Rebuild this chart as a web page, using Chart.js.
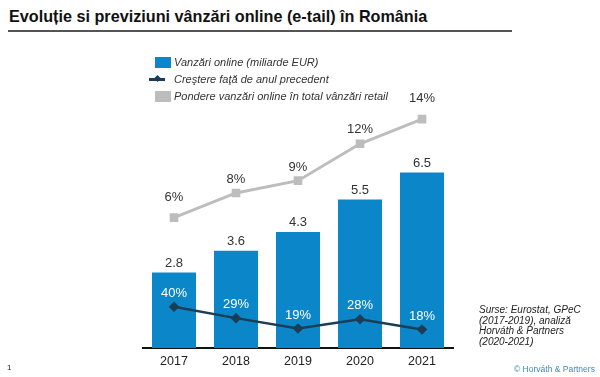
<!DOCTYPE html>
<html>
<head>
<meta charset="utf-8">
<script src="https://cdn.jsdelivr.net/npm/chart.js@4"></script>
<style>
  body { margin: 0; width: 600px; height: 377px; position: relative; background: #fff; font-family: "Liberation Sans", Arial, sans-serif; overflow: hidden; }
  #title { position: absolute; left: 9px; top: 7px; font-size: 16.2px; font-weight: bold; color: #111; white-space: nowrap; }
  #rule { position: absolute; left: 8px; top: 30px; width: 504px; height: 0; border-top: 2px solid #555; }
  #wrap { position: absolute; left: 0; top: 0; width: 600px; height: 377px; }
  .leg { position: absolute; left: 174px; font-size: 11px; font-style: italic; color: #333; white-space: nowrap; }
  .box { position: absolute; width: 16px; height: 11px; }
  #src { position: absolute; left: 479px; top: 305px; font-size: 10px; line-height: 10.6px; font-style: italic; color: #222; }
  #copy { position: absolute; left: 514px; top: 364px; font-size: 8.5px; color: #3b8cc4; white-space: nowrap; }
  #page { position: absolute; left: 7px; top: 363px; font-size: 8px; color: #222; }
</style>
</head>
<body>
<div id="title">Evoluție si previziuni vânzări online (e-tail) în România</div>
<div id="rule"></div>
<div id="wrap"><canvas id="chart" width="600" height="377"></canvas></div>

<div class="box" style="left:155px;top:57px;background:#0b87c9"></div>
<div class="leg" style="top:56px">Vanzări online (miliarde EUR)</div>
<div style="position:absolute;left:149px;top:78px;width:16px;height:3px;background:#1c3d55"></div>
<div style="position:absolute;left:155px;top:76px;width:5px;height:5px;background:#1c3d55;transform:rotate(45deg)"></div>
<div class="leg" style="top:73px">Creştere faţă de anul precedent</div>
<div class="box" style="left:155px;top:91px;background:#bdbdbd"></div>
<div class="leg" style="top:90px">Pondere vanzări online în total vânzări retail</div>

<div id="src">Surse: Eurostat, GPeC<br>(2017-2019), analiză<br>Horváth &amp; Partners<br>(2020-2021)</div>
<div id="copy">© Horváth &amp; Partners</div>
<div id="page">1</div>

<script>
const years = ['2017', '2018', '2019', '2020', '2021'];
const sales = [2.8, 3.6, 4.3, 5.5, 6.5];          // miliarde EUR
const growth = [40, 29, 19, 28, 18];              // % fata de anul precedent
const share = [6, 8, 9, 12, 14];                  // % din total retail

const blue = '#0b87c9';
const navy = '#1c3d55';
const grey = '#bdbdbd';

// etichetele de valori (deasupra barelor / punctelor)
const valueLabels = {
  id: 'valueLabels',
  afterDatasetsDraw(chart) {
    const ctx = chart.ctx;
    ctx.save();
    ctx.textAlign = 'center';
    ctx.textBaseline = 'middle';
    ctx.font = '13px "Liberation Sans", Arial, sans-serif';

    chart.getDatasetMeta(2).data.forEach((bar, i) => {
      ctx.fillStyle = '#333';
      ctx.fillText(sales[i].toFixed(1), bar.x, bar.y - 9);
    });
    chart.getDatasetMeta(0).data.forEach((pt, i) => {
      ctx.fillStyle = '#fff';
      ctx.fillText(growth[i] + '%', pt.x, pt.y - 13.5);
    });
    const shareOff = [20, 13.5, 13.5, 14, 21];
    chart.getDatasetMeta(1).data.forEach((pt, i) => {
      ctx.fillStyle = '#333';
      ctx.fillText(share[i] + '%', pt.x, pt.y - shareOff[i]);
    });
    ctx.restore();
  }
};

new Chart(document.getElementById('chart'), {
  data: {
    labels: years,
    datasets: [
      {
        type: 'line', label: 'Creştere faţă de anul precedent', data: growth, yAxisID: 'yGrowth',
        borderColor: navy, backgroundColor: navy, borderWidth: 2.5,
        pointStyle: 'rectRot', pointRadius: 3.5, pointHoverRadius: 3.5, order: 1
      },
      {
        type: 'line', label: 'Pondere vanzări online în total vânzări retail', data: share, yAxisID: 'yShare',
        borderColor: grey, backgroundColor: grey, borderWidth: 3,
        pointStyle: 'rect', pointRadius: 4, pointHoverRadius: 4, order: 2
      },
      {
        type: 'bar', label: 'Vanzări online (miliarde EUR)', data: sales, yAxisID: 'y',
        backgroundColor: blue, barPercentage: 0.71, categoryPercentage: 1, order: 3
      }
    ]
  },
  options: {
    responsive: false,
    animation: false,
    events: [],
    layout: { padding: { left: 143, right: 147, top: 105, bottom: 0 } },
    plugins: { legend: { display: false }, tooltip: { enabled: false } },
    scales: {
      x: {
        grid: { display: false, drawTicks: false },
        border: { display: true, color: '#111', width: 2 },
        ticks: { color: '#222', font: { size: 12.5, family: '"Liberation Sans", Arial, sans-serif' }, padding: 6 },
        afterFit: s => { s.height = 29; }
      },
      y: { display: false, min: 0, max: 9 },
      yGrowth: { display: false, min: 0, max: 236 },
      yShare: { display: false, min: -4.6, max: 15.15 }
    }
  },
  plugins: [valueLabels]
});
</script>
</body>
</html>
